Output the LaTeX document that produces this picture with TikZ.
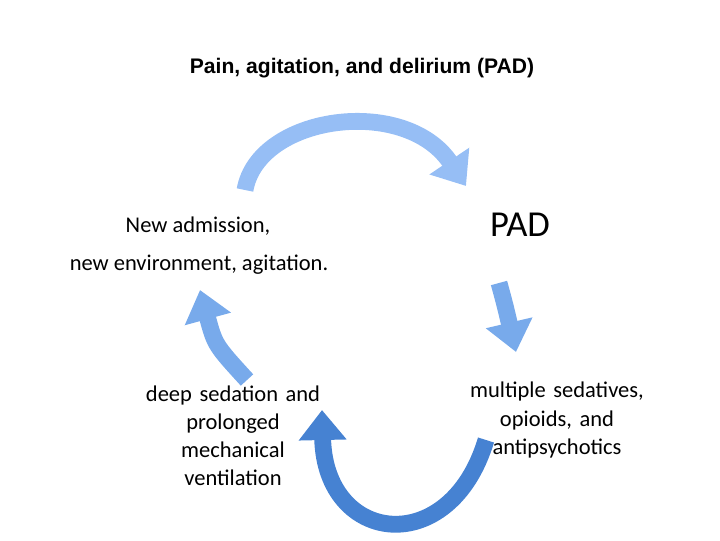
\documentclass[tikz,border=0pt]{standalone}
\usepackage{fontspec}
\setmainfont{Carlito}
\newfontfamily\titlefont{Liberation Sans}
\usetikzlibrary{arrows.meta}
\definecolor{arrowA}{RGB}{150,190,245}
\definecolor{arrowB}{RGB}{120,170,235}
\definecolor{arrowC}{RGB}{70,130,210}
\tikzset{
  label text/.style={font=\fontsize{16}{20}\selectfont, align=center},
  cycle arrow/.style={line width=0.42cm, -{Triangle[length=0.75cm,width=1.15cm]}}
}

\begin{document}
\begin{tikzpicture}[x=0.025cm,y=-0.025cm]
\useasboundingbox (0,0) rectangle (720,540);

%Titre
\node[font=\titlefont\bfseries\fontsize{15}{18}\selectfont] (title) at (362,68) {Pain, agitation, and delirium (PAD)};

%Textes
\node[label text] (admission) at (198,226) {New admission,};
\node[label text] (environment) at (199,265) {new environment, agitation.};
\node[font=\fontsize{26}{30}\selectfont] (pad) at (520,225) {PAD};
\node[label text, text width=5cm] (sedatives) at (557,420) {multiple sedatives,\\ opioids, and\\ antipsychotics};
\node[label text, text width=5cm] (sedation) at (233,436) {deep sedation and\\ prolonged\\ mechanical\\ ventilation};

%Fleches
\coordinate (topA) at (245,190);
\coordinate (topB) at (466,186);
\coordinate (rightA) at (499,283);
\coordinate (rightB) at (516,352);
\coordinate (botA) at (486,440);
\coordinate (botB) at (322,410);
\coordinate (leftA) at (247,380);
\coordinate (leftB) at (200,290);

\draw[cycle arrow, arrowA] (topA) .. controls (258,115) and (405,95) .. (topB);
\draw[cycle arrow, arrowB] (rightA) .. controls (505,305) .. (rightB);
\draw[cycle arrow, arrowC] (botA) .. controls (450,560) and (325,545) .. (botB);
\draw[cycle arrow, arrowB] (leftA) .. controls (215,345) .. (leftB);
\end{tikzpicture}
\end{document}
